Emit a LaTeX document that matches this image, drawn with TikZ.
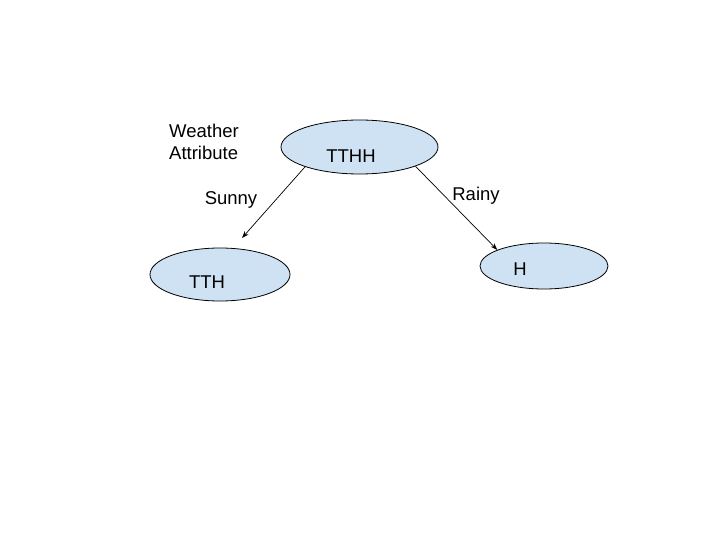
\documentclass[tikz,border=0pt]{standalone}
\usepackage{fontspec}
\setmainfont{Liberation Sans}
\usetikzlibrary{shapes.geometric,arrows.meta}
\definecolor{ellfill}{HTML}{CFE2F3}
\begin{document}
\begin{tikzpicture}[x=1pt,y=-1pt,
  ell/.style={ellipse,draw=black,line width=0.8pt,fill=ellfill,inner sep=0pt},
  txt/.style={font=\fontsize{18.5}{22}\selectfont,inner sep=0pt},
  conn/.style={line width=0.7pt,-{Stealth[length=7pt,width=5pt]}}]
\useasboundingbox (0,0) rectangle (720,540);
\node[ell,minimum width=157pt,minimum height=54pt] (top) at (359.5,147) {};
\node[ell,minimum width=140pt,minimum height=53pt] (left) at (220,274.5) {};
\node[ell,minimum width=128pt,minimum height=46pt] (right) at (544,266) {};
\node[txt] (ttt) at (351,156) {TTHH};
\node[txt] (ltt) at (207,282) {TTH};
\node[txt] (rtt) at (520,269) {H};
\node[txt,align=left,anchor=north west] (wa) at (169,124) {Weather\\Attribute};
\node[txt] (sunny) at (231,200) {Sunny};
\node[txt] (rainy) at (476,196) {Rainy};
\coordinate (lend) at (242,238);
\draw[conn] (top.200) -- (lend);
\draw[conn] (top.-19) -- (right.161);
\end{tikzpicture}
\end{document}
